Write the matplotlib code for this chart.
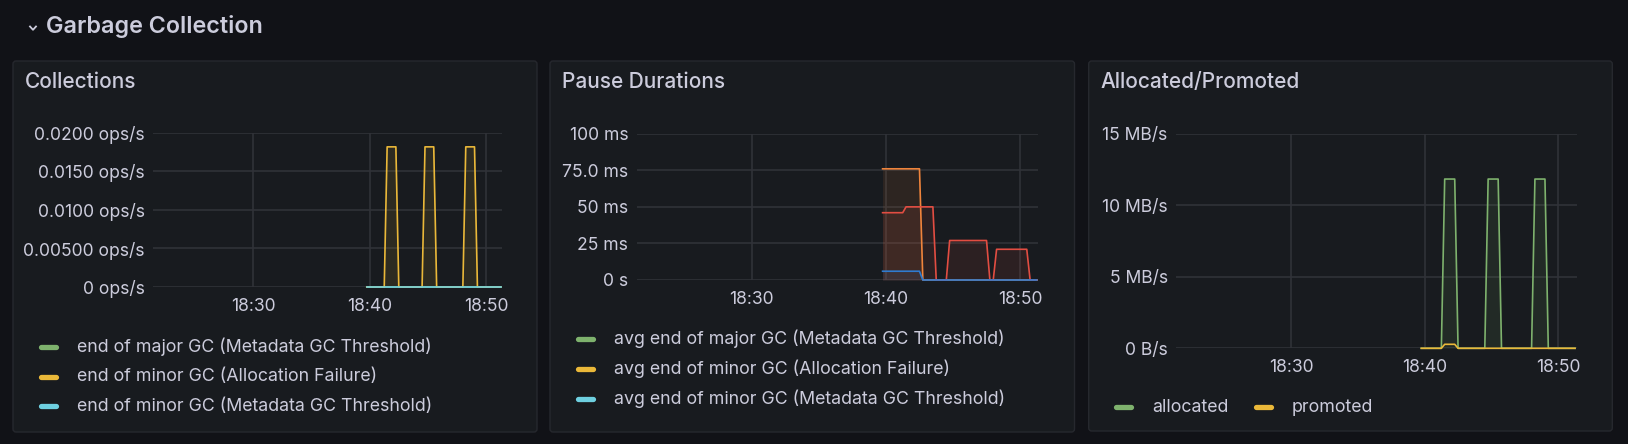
import matplotlib
matplotlib.use("Agg")
import matplotlib.pyplot as plt
from matplotlib.lines import Line2D
from matplotlib.patches import FancyBboxPatch
from matplotlib.transforms import IdentityTransform

# Datos (minutos relativos a las 18:40)
time_ticks = [-10, 0, 10]
time_labels = ["18:30", "18:40", "18:50"]

# Collections
coll_t = [-0.25, 1.25, 1.5, 2.25, 2.5, 4.5, 4.75, 5.5, 5.75, 8.0, 8.25, 9.0, 9.25, 11.25]
coll_major_meta = [0, 0, 0, 0, 0, 0, 0, 0, 0, 0, 0, 0, 0, 0]
coll_minor_alloc = [0, 0, 0.0182, 0.0182, 0, 0, 0.0182, 0.0182, 0, 0, 0.0182, 0.0182, 0, 0]
coll_minor_meta = [0, 0, 0, 0, 0, 0, 0, 0, 0, 0, 0, 0, 0, 0]
coll_yticks = [0, 0.005, 0.01, 0.015, 0.02]
coll_ylabels = ["0 ops/s", "0.00500 ops/s", "0.0100 ops/s", "0.0150 ops/s", "0.0200 ops/s"]
coll_legend = ["end of major GC (Metadata GC Threshold)",
               "end of minor GC (Allocation Failure)",
               "end of minor GC (Metadata GC Threshold)"]

# Pause Durations (ms)
pause_t = [-0.25, 1.25, 1.5, 2.5, 2.75, 3.5, 3.75, 4.5, 4.75, 7.5, 7.75, 8.0, 8.25, 10.5, 10.75, 11.25]
pause_max_major = [76, 76, 76, 76, 0, 0, 0, 0, 0, 0, 0, 0, 0, 0, 0, 0]
pause_max_minor_alloc = [46, 46, 50, 50, 50, 50, 0, 0, 27, 27, 0, 0, 21, 21, 0, 0]
pause_max_minor_meta = [6, 6, 6, 6, 0, 0, 0, 0, 0, 0, 0, 0, 0, 0, 0, 0]
pause_yticks = [0, 25, 50, 75, 100]
pause_ylabels = ["0 s", "25 ms", "50 ms", "75.0 ms", "100 ms"]
pause_legend = ["avg end of major GC (Metadata GC Threshold)",
                "avg end of minor GC (Allocation Failure)",
                "avg end of minor GC (Metadata GC Threshold)"]

# Allocated/Promoted (MB/s)
alloc_t = [-0.25, 1.25, 1.5, 2.25, 2.5, 4.5, 4.75, 5.5, 5.75, 8.0, 8.25, 9.0, 9.25, 11.25]
allocated = [0, 0, 11.83, 11.83, 0, 0, 11.83, 11.83, 0, 0, 11.83, 11.83, 0, 0]
promoted = [0, 0, 0.28, 0.28, 0, 0, 0, 0, 0, 0, 0, 0, 0, 0]
alloc_yticks = [0, 5, 10, 15]
alloc_ylabels = ["0 B/s", "5 MB/s", "10 MB/s", "15 MB/s"]
alloc_legend = ["allocated", "promoted"]

# Colores estilo Grafana (tema oscuro)
BG = "#111217"
PANEL = "#181b1f"
BORDER = "#26282e"
TEXT = "#ccccdc"
GRID = "#303238"
GREEN = "#7EB26D"
YELLOW = "#EAB839"
CYAN = "#6ED0E0"
ORANGE = "#EF843C"
RED = "#E24D42"
BLUE = "#2F7BD0"

plt.rcParams["font.family"] = ["Inter", "DejaVu Sans"]

W, H = 1628, 444
fig = plt.figure(figsize=(W / 100, H / 100), dpi=100, facecolor=BG)


def box(x0, y0, x1, y1):
    return [x0 / W, 1 - y1 / H, (x1 - x0) / W, (y1 - y0) / H]


def panel(x0, y0, x1, y1, title):
    p = FancyBboxPatch((x0, H - y1), x1 - x0, y1 - y0,
                       boxstyle="round,pad=0,rounding_size=3",
                       facecolor=PANEL, edgecolor=BORDER, lw=1,
                       transform=IdentityTransform(), zorder=-5)
    fig.add_artist(p)
    fig.text((x0 + 12) / W, 1 - 82 / H, title, color=TEXT, fontsize=15,
             weight="medium", va="center", ha="left")


def style(ax, yticks, ylabels):
    ax.set_facecolor("none")
    ax.set_xlim(-18.6, 11.36)
    ax.set_ylim(yticks[0], yticks[-1])
    ax.set_yticks(yticks, ylabels)
    ax.set_xticks(time_ticks, time_labels)
    for s in ax.spines.values():
        s.set_visible(False)
    ax.grid(True, color=GRID, lw=1.2)
    ax.set_axisbelow(True)
    ax.tick_params(length=0, colors=TEXT, labelsize=12.6)
    ax.tick_params(axis="y", pad=6)
    ax.tick_params(axis="x", pad=8)


def legend_row(x, y, color, label):
    fig.add_artist(Line2D([x + 2.5, x + 17.5], [H - y, H - y], lw=3.8, color=color,
                          solid_capstyle="round", transform=IdentityTransform()))
    fig.text((x + 39) / W, 1 - y / H, label, color=TEXT, fontsize=12.8,
             va="center", ha="left")


# Encabezado de la fila
fig.add_artist(Line2D([30, 33, 36], [H - 26.5, H - 29.8, H - 26.5], lw=1.3, color=TEXT,
                      transform=IdentityTransform()))
fig.text(46 / W, 1 - 26 / H, "Garbage Collection", color=TEXT, fontsize=16.8,
         weight="semibold", va="center", ha="left")

# Panel 1: Collections
panel(13, 61, 537, 432, "Collections")
ax1 = fig.add_axes(box(153, 133, 502, 287))
style(ax1, coll_yticks, coll_ylabels)
ax1.plot(coll_t, coll_major_meta, color=GREEN, lw=1.2, clip_on=False)
ax1.plot(coll_t, coll_minor_alloc, color=YELLOW, lw=1.2, clip_on=False)
ax1.fill_between(coll_t, coll_minor_alloc, color=YELLOW, alpha=0.1, lw=0)
ax1.plot(coll_t, coll_minor_meta, color=CYAN, lw=1.2, clip_on=False)
for i, (lab, c) in enumerate(zip(coll_legend, [GREEN, YELLOW, CYAN])):
    legend_row(38, 347 + i * 29.5, c, lab)

# Panel 2: Pause Durations
panel(550, 61, 1074.5, 432, "Pause Durations")
ax2 = fig.add_axes(box(636.5, 133.7, 1038.3, 280))
style(ax2, pause_yticks, pause_ylabels)
for vals, c in [(pause_max_major, ORANGE), (pause_max_minor_alloc, RED), (pause_max_minor_meta, BLUE)]:
    ax2.fill_between(pause_t, vals, color=c, alpha=0.1, lw=0)
    ax2.plot(pause_t, vals, color=c, lw=1.2, clip_on=False)
for i, (lab, c) in enumerate(zip(pause_legend, [GREEN, YELLOW, CYAN])):
    legend_row(575, 339 + i * 30, c, lab)

# Panel 3: Allocated/Promoted
panel(1088.7, 61, 1612.3, 431, "Allocated/Promoted")
ax3 = fig.add_axes(box(1176, 133.7, 1576.5, 348.3))
style(ax3, alloc_yticks, alloc_ylabels)
ax3.fill_between(alloc_t, allocated, color=GREEN, alpha=0.1, lw=0)
ax3.plot(alloc_t, allocated, color=GREEN, lw=1.2, clip_on=False)
ax3.plot(alloc_t, promoted, color=YELLOW, lw=1.2, clip_on=False)
legend_row(1113, 407, GREEN, alloc_legend[0])
legend_row(1253, 407, YELLOW, alloc_legend[1])

fig.savefig("out.png", dpi=100, facecolor=BG)
